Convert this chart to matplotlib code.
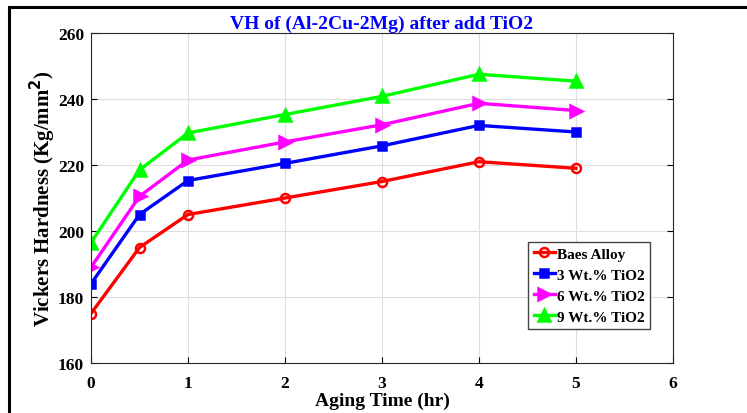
import matplotlib
matplotlib.use("Agg")
import matplotlib.pyplot as plt
from matplotlib.lines import Line2D

# aging time (hr) and hardness values
time_hr = [0, 0.5, 1, 2, 3, 4, 5]
base_alloy = [175, 195, 205, 210, 215, 221, 219]
tio2_3 = [184, 205, 215.3, 220.5, 225.8, 232, 230]
tio2_6 = [189, 210.5, 221.5, 227, 232.2, 238.7, 236.5]
tio2_9 = [196.5, 218.5, 229.7, 235.3, 240.8, 247.5, 245.4]
labels = ["Baes Alloy", "3 Wt.% TiO2", "6 Wt.% TiO2", "9 Wt.% TiO2"]

plt.rcParams['font.family'] = ['Liberation Serif', 'DejaVu Serif']
plt.rcParams['font.weight'] = 'bold'

fig = plt.figure(figsize=(7.47, 4.14), dpi=100)
ax = fig.add_axes([91/747, 50/414, 582/747, 330/414])

# outer frame (top and left edges only visible)
fig.add_artist(Line2D([9/747, 1], [1 - 7.5/414, 1 - 7.5/414], color='black', lw=2.2,
                      transform=fig.transFigure))
fig.add_artist(Line2D([9/747, 9/747], [0, 1 - 7.5/414], color='black', lw=2.2,
                      transform=fig.transFigure))

styles = [
    ('red', 'o', 'none'),
    ('blue', 's', None),
    ('magenta', '>', None),
    ('lime', '^', None),
]
series = [base_alloy, tio2_3, tio2_6, tio2_9]
for vals, lab, (c, m, fc) in zip(series, labels, styles):
    kw = dict(color=c, marker=m, lw=2.4, label=lab, markersize=7, markeredgewidth=1.8)
    if fc == 'none':
        kw['markerfacecolor'] = 'none'
        kw['markersize'] = 6.5
    else:
        kw['markersize'] = 8 if m != 's' else 6
    ax.plot(time_hr, vals, **kw)

ax.set_xlim(0, 6)
ax.set_ylim(160, 260)
ax.set_xticks(range(0, 7))
ax.set_yticks(range(160, 261, 20))
ax.grid(True, color='#dedede', lw=0.8)
ax.set_axisbelow(True)
ax.tick_params(direction='in', length=4, width=0.8, labelsize=12.5, top=False, right=True)
ax.tick_params(axis='x', pad=9)
ax.tick_params(axis='y', right=True, pad=5)
for s in ax.spines.values():
    s.set_color('#262626')
    s.set_linewidth(0.8)

ax.set_xlabel("Aging Time (hr)", fontsize=14, fontweight='bold', labelpad=0)
ax.set_ylabel(r"Vickers Hardness (Kg/mm$^{\mathbf{2}}$)", fontsize=15, fontweight='bold',
              labelpad=0)
ax.set_title("VH of (Al-2Cu-2Mg) after add TiO2", color='blue', fontsize=14,
             fontweight='bold', pad=4)

leg = ax.legend(loc='lower right', bbox_to_anchor=(0.96, 0.103), fontsize=11,
                frameon=True, fancybox=False, edgecolor='#444444', framealpha=1,
                handlelength=1.4, handletextpad=0.1, borderpad=0.35, labelspacing=0.48,
                borderaxespad=0)
leg.get_frame().set_linewidth(1.0)

fig.savefig("out.png", dpi=100)
